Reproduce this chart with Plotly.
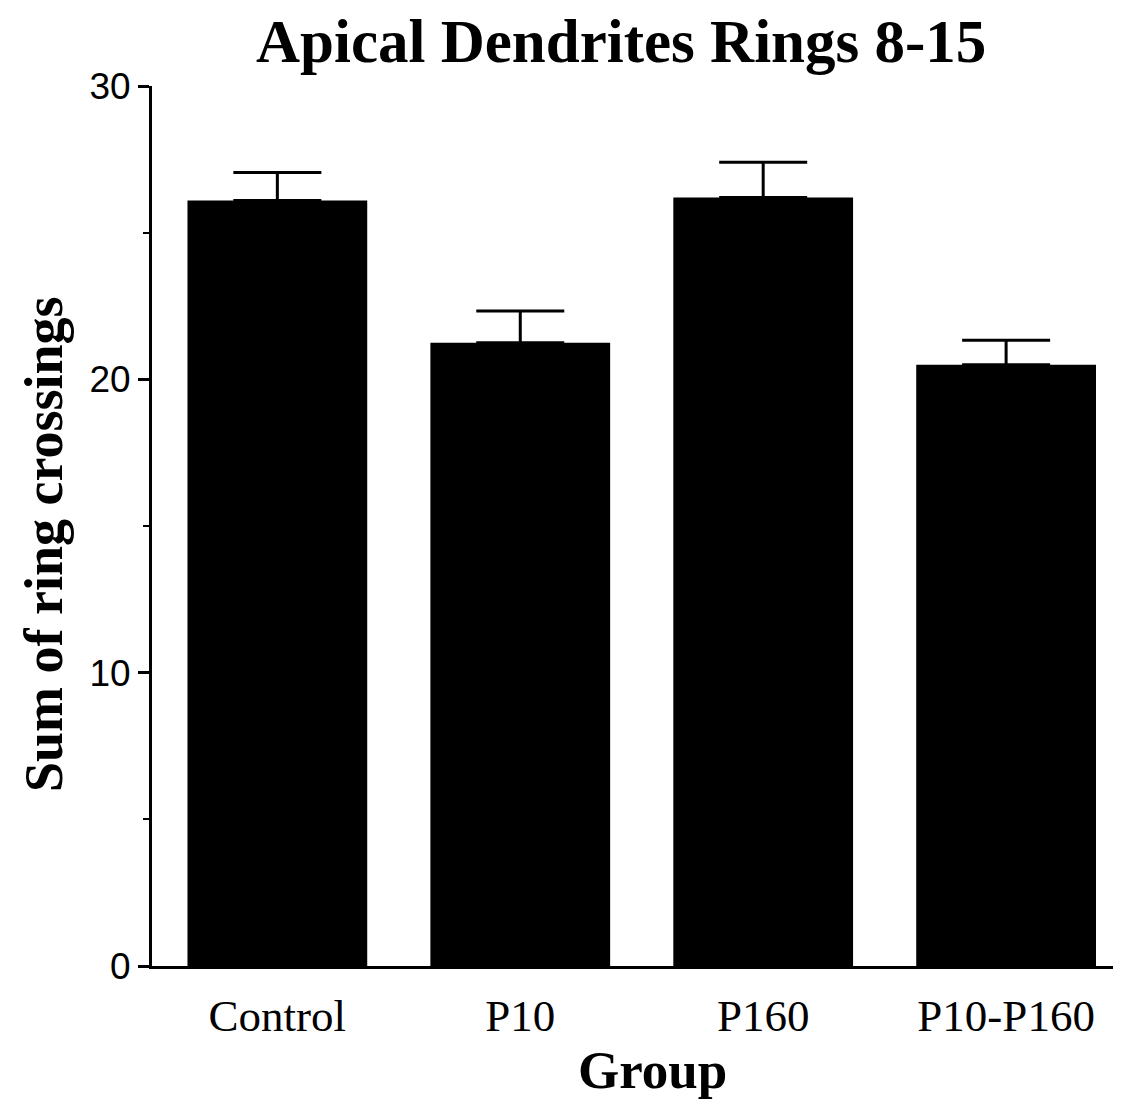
import plotly.graph_objects as go

categories = ["Control", "P10", "P160", "P10-P160"]
means = [26.1, 21.25, 26.2, 20.5]
sem = [0.95, 1.08, 1.2, 0.83]
y_ticks = [0, 10, 20, 30]

# page body has an 8px margin; positions below are compensated for it
OFF = 8
L, T = 152 - OFF, 86 - OFF
PW, PH = 961, 880
W, H = 1133 - OFF * 2, 1111 - OFF * 2

fig = go.Figure()
fig.add_trace(go.Bar(
    x=categories, y=means,
    marker=dict(color="black", line=dict(width=0)),
    error_y=dict(type="data", array=sem, arrayminus=[0]*len(sem), symmetric=False,
                 color="black", thickness=3, width=44),
))

serif = "Liberation Serif, Times New Roman, serif"
sans = "Liberation Sans, Arial, sans-serif"

def px_x(x):
    return (x - OFF - L) / PW

def px_y(y):
    return (T + PH - (y - OFF)) / PH

fig.update_layout(
    width=W, height=H,
    margin=dict(l=L, r=W - L - PW, t=T, b=H - T - PH),
    paper_bgcolor="white", plot_bgcolor="white",
    bargap=0.26,
    showlegend=False,
    xaxis=dict(
        range=[-0.516, 3.44], showline=True, linecolor="black", linewidth=3,
        ticks="", tickfont=dict(family=serif, size=45, color="black"),
        ticklabelstandoff=8, showgrid=False, zeroline=False,
    ),
    yaxis=dict(
        range=[0, 30], tickvals=y_ticks, showline=True, linecolor="black", linewidth=3,
        ticks="outside", ticklen=11, tickwidth=3, tickcolor="black",
        tickfont=dict(family=sans, size=37, color="black"),
        minor=dict(tickvals=[5, 15, 25], ticks="outside", ticklen=6, tickwidth=2, tickcolor="black"),
        showgrid=False, zeroline=False,
    ),
    annotations=[
        dict(text="<b>Apical Dendrites Rings 8-15</b>", xref="paper", yref="paper",
             x=px_x(621), y=px_y(42), xanchor="center", yanchor="middle",
             showarrow=False, font=dict(family=serif, size=61, color="black")),
        dict(text="<b>Sum of ring crossings</b>", xref="paper", yref="paper",
             x=px_x(44), y=px_y(544), xanchor="center", yanchor="middle",
             textangle=-90, showarrow=False, font=dict(family=serif, size=54, color="black")),
        dict(text="<b>Group</b>", xref="paper", yref="paper",
             x=px_x(652), y=px_y(1070), xanchor="center", yanchor="middle",
             showarrow=False, font=dict(family=serif, size=53, color="black")),
    ],
)

fig.write_html("out.html")
